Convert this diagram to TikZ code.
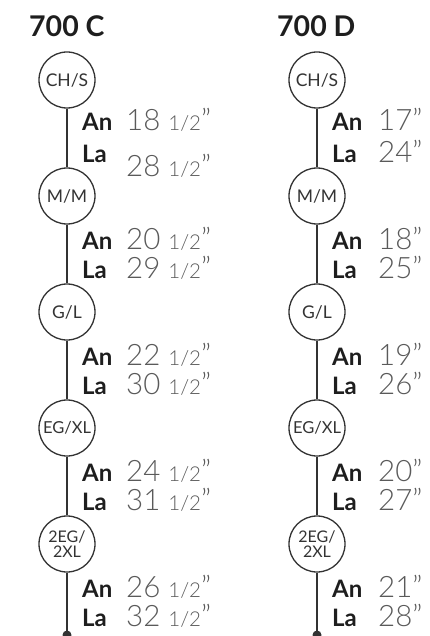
\documentclass[tikz,border=0pt]{standalone}
\usepackage{fontspec}
\setmainfont{Lato}
\newfontfamily\latolight{Lato Light}
\definecolor{ink}{HTML}{1E1E1E}
\definecolor{ringgray}{HTML}{333333}
\definecolor{numgray}{HTML}{5A5A5A}
\newcommand{\half}{{\fontsize{20.5}{20.5}\selectfont 1/2}”}
\tikzset{
  size/.style={circle, draw=ringgray, line width=1.3pt, minimum size=56pt, inner sep=0pt,
    text=ringgray, font=\fontsize{17.5}{17.5}\selectfont},
  key/.style={anchor=base west, inner sep=0pt, text=ink, font=\bfseries\fontsize{24}{24}\selectfont},
  val/.style={anchor=base west, inner sep=0pt, text=numgray, font=\latolight\fontsize{29.5}{29.5}\selectfont},
  stem/.style={draw=ringgray, line width=1.4pt}
}
\begin{document}
\begin{tikzpicture}[x=1pt, y=-1pt]
    \useasboundingbox (0,0) rectangle (430,636);

    % Titles
    \node[anchor=base west, inner sep=0pt, text=ink, font=\bfseries\fontsize{28.5}{28.5}\selectfont] (titleC) at (29,37) {700 C};
    \node[anchor=base west, inner sep=0pt, text=ink, font=\bfseries\fontsize{28.5}{28.5}\selectfont] (titleD) at (277,37) {700 D};

    % Sizes, 700 C
    \node[size] (c1) at (67,80) {CH/S};
    \node[size] (c2) at (67,196) {M/M};
    \node[size] (c3) at (67,312) {G/L};
    \node[size, font=\fontsize{16.5}{16.5}\selectfont] (c4) at (67,428) {EG/XL};
    \node[size, align=center, font=\fontsize{16}{15}\selectfont] (c5) at (67,544) {2EG/\\2XL};
    \coordinate (cend) at (67,635);

    % Sizes, 700 D
    \node[size] (d1) at (317,80) {CH/S};
    \node[size] (d2) at (317,196) {M/M};
    \node[size] (d3) at (317,312) {G/L};
    \node[size, font=\fontsize{16.5}{16.5}\selectfont] (d4) at (317,428) {EG/XL};
    \node[size, align=center, font=\fontsize{16}{15}\selectfont] (d5) at (317,544) {2EG/\\2XL};
    \coordinate (dend) at (317,635);

    % Stems
    \draw[stem] (c1) -- (c2) -- (c3) -- (c4) -- (c5) -- (cend);
    \draw[stem] (d1) -- (d2) -- (d3) -- (d4) -- (d5) -- (dend);
    \fill[ringgray] (cend) circle (4.5);
    \fill[ringgray] (dend) circle (4.5);

    % Measures, 700 C
    \node[key] (cAn1) at (82,131) {An};  \node[val] (cAv1) at (126,131) {18 \half};
    \node[key] (cLa1) at (82,163) {La};  \node[val] (cLv1) at (126,177) {28 \half};
    \node[key] (cAn2) at (82,249) {An};  \node[val] (cAv2) at (126,249) {20 \half};
    \node[key] (cLa2) at (82,278) {La};  \node[val] (cLv2) at (126,278) {29 \half};
    \node[key] (cAn3) at (82,365) {An};  \node[val] (cAv3) at (126,365) {22 \half};
    \node[key] (cLa3) at (82,394) {La};  \node[val] (cLv3) at (126,394) {30 \half};
    \node[key] (cAn4) at (82,481) {An};  \node[val] (cAv4) at (126,481) {24 \half};
    \node[key] (cLa4) at (82,510) {La};  \node[val] (cLv4) at (126,510) {31 \half};
    \node[key] (cAn5) at (82,597) {An};  \node[val] (cAv5) at (126,597) {26 \half};
    \node[key] (cLa5) at (82,626) {La};  \node[val] (cLv5) at (126,626) {32 \half};

    % Measures, 700 D
    \node[key] (dAn1) at (332,131) {An};  \node[val] (dAv1) at (378,131) {17”};
    \node[key] (dLa1) at (332,163) {La};  \node[val] (dLv1) at (378,163) {24”};
    \node[key] (dAn2) at (332,249) {An};  \node[val] (dAv2) at (378,249) {18”};
    \node[key] (dLa2) at (332,278) {La};  \node[val] (dLv2) at (378,278) {25”};
    \node[key] (dAn3) at (332,365) {An};  \node[val] (dAv3) at (378,365) {19”};
    \node[key] (dLa3) at (332,394) {La};  \node[val] (dLv3) at (378,394) {26”};
    \node[key] (dAn4) at (332,481) {An};  \node[val] (dAv4) at (378,481) {20”};
    \node[key] (dLa4) at (332,510) {La};  \node[val] (dLv4) at (378,510) {27”};
    \node[key] (dAn5) at (332,597) {An};  \node[val] (dAv5) at (378,597) {21”};
    \node[key] (dLa5) at (332,626) {La};  \node[val] (dLv5) at (378,626) {28”};
\end{tikzpicture}
\end{document}
